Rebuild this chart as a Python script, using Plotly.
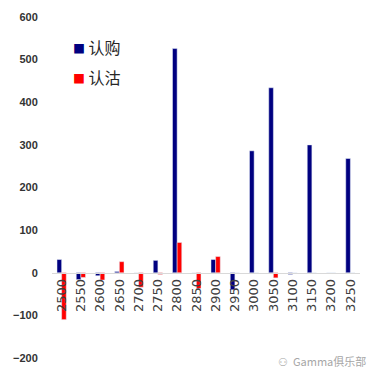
import plotly.graph_objects as go

strikes = ["2500", "2550", "2600", "2650", "2700", "2750", "2800", "2850",
           "2900", "2950", "3000", "3050", "3100", "3150", "3200", "3250"]
call_vals = [31, -16, -7, 3, 0, 29, 526, 0, 31, -40, 286, 434, -4, 300, 0, 268]
put_vals = [-110, -11, -17, 26, -34, -4, 71, -37, 38, 0, 0, -12, 0, 0, 0, 0]
y_ticks = [-200, -100, 0, 100, 200, 300, 400, 500, 600]
series_names = ["认购", "认沽"]
series_colors = ["#000080", "#FF0000"]

fig = go.Figure()
fig.add_trace(go.Bar(x=strikes, y=call_vals, name=series_names[0], marker_color=series_colors[0]))
fig.add_trace(go.Bar(x=strikes, y=put_vals, name=series_names[1], marker_color=series_colors[1]))

L, R, T, B = 52, 18, 17, 20
pw, ph = 378 - L - R, 378 - T - B

def px_x(x):
    return (x - L) / pw

def px_y(y):
    return (378 - B - y) / ph

annotations = []
for i, (nm, col) in enumerate(zip(series_names, series_colors)):
    annotations.append(dict(
        x=px_x(71), y=px_y(47 + 30 * i), xref="paper", yref="paper",
        xanchor="left", yanchor="middle", showarrow=False,
        text=f"<span style='color:{col};font-size:12px'>■</span> {nm}",
        font=dict(family="Noto Sans CJK SC", size=16, color="#262626"),
    ))
annotations.append(dict(
    x=px_x(368), y=px_y(361), xref="paper", yref="paper",
    xanchor="right", yanchor="middle",
    text="⚇  Gamma俱乐部", showarrow=False,
    font=dict(family="Noto Sans CJK SC", size=11, color="#A6A6A6"),
))

fig.update_layout(
    width=378, height=378,
    margin=dict(l=L, r=R, t=T, b=B, autoexpand=False),
    paper_bgcolor="white", plot_bgcolor="white",
    barmode="group", bargap=0.52, bargroupgap=0.0,
    showlegend=False,
    xaxis=dict(
        type="category", anchor="free", position=0.25, automargin=False,
        showline=True, linecolor="#D9D9D9", linewidth=1,
        ticks="", tickangle=-90,
        tickfont=dict(family="DejaVu Sans", size=13, color="#404040"),
        showgrid=False, zeroline=False,
    ),
    yaxis=dict(
        range=[-200, 600], tickvals=y_ticks, automargin=False,
        anchor="free", position=0,
        showgrid=False, zeroline=False, showline=False,
        ticks="outside", ticklen=12, tickcolor="rgba(0,0,0,0)",
        tickfont=dict(family="Liberation Sans", size=11, color="#333333", weight="bold"),
    ),
    annotations=annotations,
)

fig.write_html("out.html", config={"displayModeBar": False},
               post_script="document.body.style.margin='0';document.body.style.padding='0';")
